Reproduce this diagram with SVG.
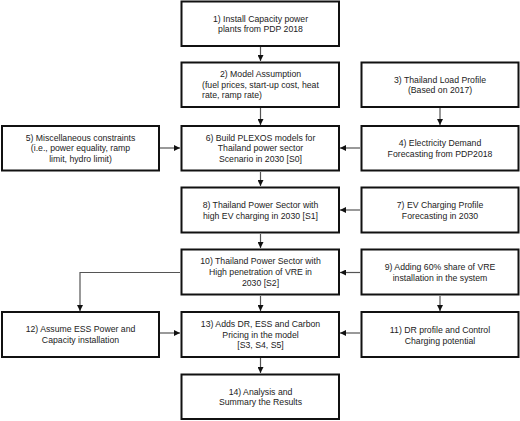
<svg xmlns="http://www.w3.org/2000/svg" width="520" height="421" viewBox="0 0 520 421">
<style>
.box{fill:#fff;stroke:#111;stroke-width:2}
text{font-family:"Liberation Sans",Arial,sans-serif;font-size:8.7px;fill:#222;text-anchor:middle}
.l{text-anchor:start}
.c{fill:none;stroke:#555;stroke-width:1.2}
</style>
<defs>
<marker id="ah" markerUnits="userSpaceOnUse" markerWidth="6" markerHeight="6" refX="6" refY="3" orient="auto">
<path d="M0,0 L6,3 L0,6 z" fill="#111"/>
</marker>
</defs>
<rect x="0" y="0" width="520" height="421" fill="#fff"/>
<g id="connectors">
<line class="c" x1="260.5" y1="47" x2="260.5" y2="61" marker-end="url(#ah)"/>
<line class="c" x1="260.5" y1="108" x2="260.5" y2="125" marker-end="url(#ah)"/>
<line class="c" x1="440" y1="108" x2="440" y2="125" marker-end="url(#ah)"/>
<line class="c" x1="160" y1="148" x2="180" y2="148" marker-end="url(#ah)"/>
<line class="c" x1="360" y1="148" x2="340" y2="148" marker-end="url(#ah)"/>
<line class="c" x1="260.5" y1="172" x2="260.5" y2="186" marker-end="url(#ah)"/>
<line class="c" x1="360" y1="210" x2="340" y2="210" marker-end="url(#ah)"/>
<line class="c" x1="260.5" y1="234" x2="260.5" y2="248" marker-end="url(#ah)"/>
<line class="c" x1="360" y1="272.5" x2="340" y2="272.5" marker-end="url(#ah)"/>
<polyline class="c" points="180,272.5 80,272.5 80,311" marker-end="url(#ah)"/>
<line class="c" x1="260.5" y1="296" x2="260.5" y2="311" marker-end="url(#ah)"/>
<line class="c" x1="440" y1="296" x2="440" y2="311" marker-end="url(#ah)"/>
<line class="c" x1="160" y1="333" x2="180" y2="333" marker-end="url(#ah)"/>
<line class="c" x1="360" y1="333" x2="340" y2="333" marker-end="url(#ah)"/>
<line class="c" x1="260.5" y1="358" x2="260.5" y2="373" marker-end="url(#ah)"/>
</g>
<g id="n1"><rect class="box" x="181.5" y="1.5" width="157.5" height="44.5"/>
<text x="260.5" y="21.5">1) Install Capacity power</text><text x="260.5" y="32">plants from PDP 2018</text></g>
<g id="n2"><rect class="box" x="181.5" y="62.5" width="157.5" height="44.5"/>
<text x="260.5" y="77.3">2) Model Assumption</text><text class="l" x="202" y="87.8">(fuel prices, start-up cost, heat</text><text class="l" x="202" y="98.3">rate, ramp rate)</text></g>
<g id="n3"><rect class="box" x="361.5" y="62.5" width="157" height="44.5"/>
<text x="440" y="82.5">3) Thailand Load Profile</text><text x="440" y="93">(Based on 2017)</text></g>
<g id="n5"><rect class="box" x="2" y="126" width="157" height="44.5"/>
<text x="80.5" y="140.5">5) Miscellaneous constraints</text><text x="80.5" y="151.3">(i.e., power equality, ramp</text><text x="80.5" y="162">limit, hydro limit)</text></g>
<g id="n6"><rect class="box" x="181.5" y="126" width="157.5" height="44.5"/>
<text x="260.5" y="140.5">6) Build PLEXOS models for</text><text x="260.5" y="151.3">Thailand power sector</text><text x="260.5" y="162">Scenario in 2030 [S0]</text></g>
<g id="n4"><rect class="box" x="361.5" y="126" width="157" height="44.5"/>
<text x="440" y="146">4) Electricity Demand</text><text x="440" y="156.5">Forecasting from PDP2018</text></g>
<g id="n8"><rect class="box" x="181.5" y="187.5" width="157.5" height="45"/>
<text x="260.5" y="208">8) Thailand Power Sector with</text><text x="260.5" y="218.5">high EV charging in 2030 [S1]</text></g>
<g id="n7"><rect class="box" x="361.5" y="187.5" width="157" height="45"/>
<text x="440" y="208">7) EV Charging Profile</text><text x="440" y="218.5">Forecasting in 2030</text></g>
<g id="n10"><rect class="box" x="181.5" y="249.5" width="157.5" height="45"/>
<text x="260.5" y="263.5">10) Thailand Power Sector with</text><text x="260.5" y="274.8">High penetration of VRE in</text><text x="260.5" y="286">2030 [S2]</text></g>
<g id="n9"><rect class="box" x="361.5" y="249.5" width="157" height="45"/>
<text x="440" y="269.5">9) Adding 60% share of VRE</text><text x="440" y="280.5">installation in the system</text></g>
<g id="n12"><rect class="box" x="2" y="312" width="157" height="45"/>
<text x="80.5" y="332.3">12) Assume ESS Power and</text><text x="80.5" y="343">Capacity installation</text></g>
<g id="n13"><rect class="box" x="181.5" y="312" width="157.5" height="45"/>
<text x="260.5" y="327.3">13) Adds DR, ESS and Carbon</text><text x="260.5" y="337.7">Pricing in the model</text><text x="260.5" y="348.3">[S3, S4, S5]</text></g>
<g id="n11"><rect class="box" x="361.5" y="312" width="157" height="45"/>
<text x="440" y="333">11) DR profile and Control</text><text x="440" y="343.5">Charging potential</text></g>
<g id="n14"><rect class="box" x="181.5" y="374.5" width="157.5" height="44.5"/>
<text x="260.5" y="394.5">14) Analysis and</text><text x="260.5" y="405">Summary the Results</text></g>
</svg>
